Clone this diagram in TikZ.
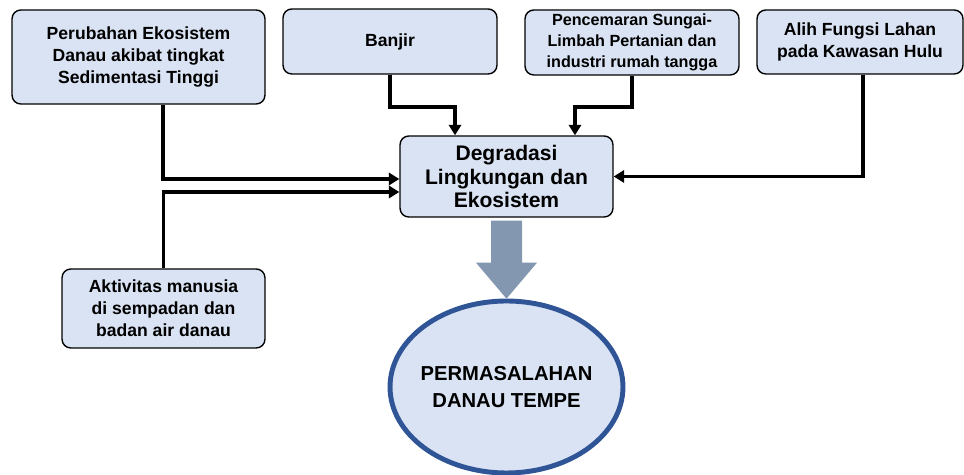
\documentclass[tikz,border=0pt]{standalone}
\usepackage{fontspec}
\setmainfont{Liberation Sans}
\usetikzlibrary{arrows.meta,shapes.geometric}
\definecolor{boxfill}{HTML}{DAE3F3}
\definecolor{ringblue}{HTML}{2F5597}
\definecolor{flowgray}{HTML}{8497B0}
\tikzset{
  box/.style={draw=black, line width=0.8pt, fill=boxfill, rounded corners=5pt,
    align=center, inner sep=0pt, font=\bfseries\fontsize{10}{12.5}\selectfont},
  link/.style={line width=2.2pt, -{Triangle[length=6pt,width=7pt]}},
}
\begin{document}
\begin{tikzpicture}[x=0.02cm,y=-0.02cm]
\useasboundingbox (0,0) rectangle (964,475);
\node [box, minimum width=5.06cm, minimum height=1.88cm] (perubahan) at (138.5,57) {Perubahan Ekosistem\\Danau akibat tingkat\\Sedimentasi Tinggi};
\node [box, minimum width=4.28cm, minimum height=1.3cm] (banjir) at (390,41.5) {Banjir};
\node [box, minimum width=4.28cm, minimum height=1.3cm, font=\bfseries\fontsize{9.2}{11.9}\selectfont] (pencemaran) at (632,42.5) {Pencemaran Sungai-\\Limbah Pertanian dan\\industri rumah tangga};
\node [box, minimum width=4.12cm, minimum height=1.28cm] (alih) at (860,42) {Alih Fungsi Lahan\\pada Kawasan Hulu};
\node [box, minimum width=4.26cm, minimum height=1.62cm, font=\bfseries\fontsize{12}{13.6}\selectfont] (degradasi) at (506.5,176.5) {Degradasi\\Lingkungan dan\\Ekosistem};
\node [box, minimum width=4.06cm, minimum height=1.58cm] (aktivitas) at (163.5,308.5) {Aktivitas manusia\\di sempadan dan\\badan air danau};
\node [ellipse, draw=ringblue, line width=2.8pt, fill=boxfill, minimum width=4.66cm, minimum height=3.44cm, inner sep=0pt] (masalah) at (506.5,387) {};
\node [align=center, font=\bfseries\fontsize{11.5}{15.3}\selectfont] (masalahteks) at (masalah.center) {PERMASALAHAN\\DANAU TEMPE};
%
\draw [link] ([xshift=0.49cm]perubahan.south) |- ([yshift=-0.05cm]degradasi.west);
\draw [link] (aktivitas.north) |- ([yshift=-0.31cm]degradasi.west);
\draw [link] (banjir.south) -- ++(0,32) -| ([xshift=-1.03cm]degradasi.north);
\draw [link] (pencemaran.south) -- ++(0,31) -| ([xshift=1.37cm]degradasi.north);
\draw [link] ([xshift=0.06cm]alih.south) |- (degradasi.east);
%
\fill [flowgray] (degradasi.south) ++(-15.5,3) -- ++(31,0) -- ++(0,42) -- ++(15,0) -- ++(-30.5,36) -- ++(-30.5,-36) -- ++(15,0) -- cycle;
\end{tikzpicture}
\end{document}
